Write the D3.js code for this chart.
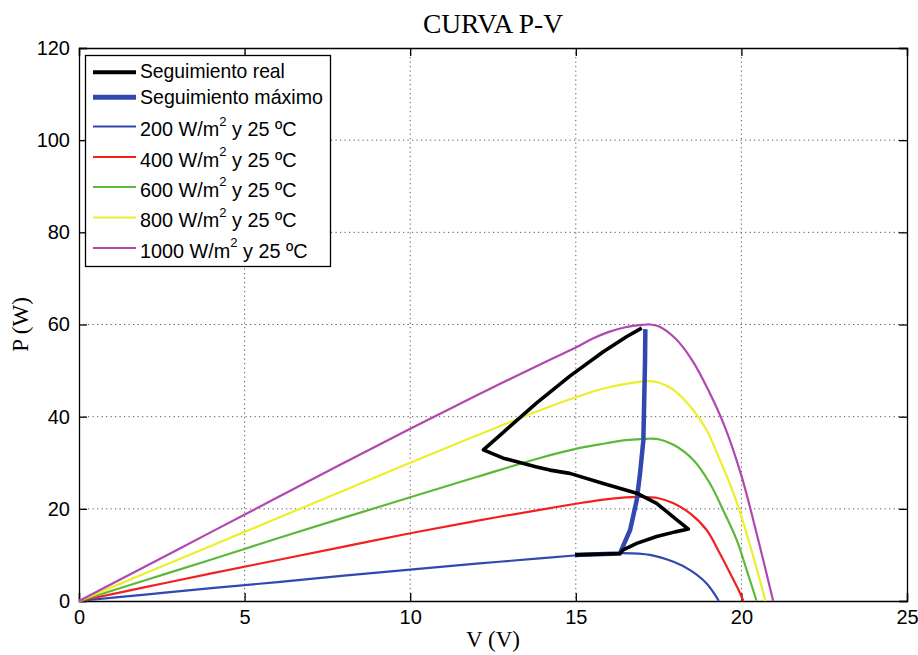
<!DOCTYPE html>
<html><head><meta charset="utf-8">
<script src="https://cdn.jsdelivr.net/npm/d3@7"></script>
<style>body{margin:0;background:#fff}svg{display:block}</style>
</head><body><svg id="c" width="918" height="655"></svg>
<script>
// ---- data ----
const xTicks = [0,5,10,15,20,25];
const yTicks = [0,20,40,60,80,100,120];
const curve200 = [[0,0],[2,1.4],[4,2.8],[6,4.1],[8,5.5],[10,6.8],[12,8.1],[14,9.3],[15,9.9],[15.73,10.3],[16.33,10.4],[17.24,10.0],[17.95,8.5],[18.45,6.7],[18.95,3.8],[19.32,0]];
const curve400 = [[0,0],[2,3.0],[4,6.0],[6,8.9],[8,11.8],[10,14.7],[12,17.4],[14,19.9],[15,21.1],[15.73,21.9],[16.5,22.5],[16.94,22.6],[17.5,22.3],[17.95,21.2],[18.45,19.0],[18.95,15.4],[19.35,10.3],[19.66,6.0],[19.96,1.7],[20.06,0]];
const curve600 = [[0,0],[2,4.5],[4,9.0],[6,13.6],[8,18.1],[10,22.5],[12,26.9],[14,31.2],[15,33.0],[15.73,34.0],[16.5,34.9],[17.14,35.2],[17.5,35.1],[17.95,33.9],[18.55,30.6],[19.05,25.5],[19.45,19.7],[19.86,13.2],[20.16,6.7],[20.46,0]];
const curve800 = [[0,0],[2,6.0],[4,12.0],[6,18.0],[8,24.0],[10,30.0],[12,35.9],[14,41.6],[15,44.2],[15.73,45.9],[16.5,47.1],[17.14,47.7],[17.5,47.4],[17.95,45.8],[18.55,41.4],[18.95,37.1],[19.35,30.6],[19.76,23.4],[20.06,16.9],[20.36,9.6],[20.73,0]];
const curve1000 = [[0,0],[2,7.5],[4,15.0],[6,22.5],[8,30.0],[10,37.4],[12,44.6],[14,51.6],[15,55.0],[15.5,56.9],[16,58.4],[16.5,59.4],[17,59.9],[17.25,60.0],[17.5,59.6],[18,57.0],[18.5,52.4],[19,45.8],[19.5,37.8],[20,27.2],[20.5,13.5],[20.96,0]];
const seguimientoMaximo = [[14.98,10.0],[16.33,10.3],[16.45,12.3],[16.64,15.4],[16.84,21.9],[16.94,27.7],[17.04,34.9],[17.07,45.1],[17.09,52],[17.1,59.0]];
const seguimientoReal = [[14.98,10.0],[16.33,10.3],[16.43,11.1],[16.84,12.5],[17.44,14.0],[18.0,15.0],[18.4,15.6],[18.05,17.6],[17.44,21.2],[16.84,23.4],[15.83,25.5],[14.82,27.7],[14.22,28.4],[13.82,29.1],[12.81,31.0],[12.21,32.8],[12.81,36.6],[13.82,43.0],[14.82,48.8],[15.83,54.1],[16.54,57.4],[16.99,59.2]];
const legendLabels = ["Seguimiento real","Seguimiento máximo","200","400","600","800","1000"];

// ---- layout ----
const svg = d3.select("#c");
const L=79, R=907, T=48, B=601;
const x = d3.scaleLinear().domain([0,25]).range([L,R]);
const y = d3.scaleLinear().domain([0,120]).range([B,T]);

// grid
const g = svg.append("g");
g.selectAll(".gx").data(xTicks.slice(1,-1)).join("line")
  .attr("x1",d=>x(d)).attr("x2",d=>x(d)).attr("y1",T).attr("y2",B)
  .attr("stroke","#555").attr("stroke-width",1).attr("stroke-dasharray","1.2,3.3");
g.selectAll(".gy").data(yTicks.slice(1,-1)).join("line")
  .attr("y1",d=>y(d)).attr("y2",d=>y(d)).attr("x1",L).attr("x2",R)
  .attr("stroke","#555").attr("stroke-width",1).attr("stroke-dasharray","1.2,3.3");

// axes
const tickFont = "Liberation Sans, Arial, sans-serif";
const ax = svg.append("g").attr("transform",`translate(0,${B})`)
  .call(d3.axisBottom(x).tickValues(xTicks).tickSize(-8).tickPadding(9).tickFormat(d3.format("d")));
const axT = svg.append("g").attr("transform",`translate(0,${T})`)
  .call(d3.axisTop(x).tickValues(xTicks).tickSize(-8).tickFormat(""));
const ay = svg.append("g").attr("transform",`translate(${L},0)`)
  .call(d3.axisLeft(y).tickValues(yTicks).tickSize(-8).tickPadding(9).tickFormat(d3.format("d")));
const ayR = svg.append("g").attr("transform",`translate(${R},0)`)
  .call(d3.axisRight(y).tickValues(yTicks).tickSize(-8).tickFormat(""));
[ax,axT,ay,ayR].forEach(a=>{
  a.selectAll("path").attr("stroke","#000").attr("stroke-width",1.3);
  a.selectAll("line").attr("stroke","#000").attr("stroke-width",1.3);
  a.selectAll("text").attr("font-family",tickFont).attr("font-size",20).attr("fill","#000");
});

// curves
const line = d3.line().x(d=>x(d[0])).y(d=>y(d[1])).curve(d3.curveCatmullRom.alpha(0.5));
const lineL = d3.line().x(d=>x(d[0])).y(d=>y(d[1]));
const colors = {c200:"#3048b0",c400:"#f42020",c600:"#5cb83c",c800:"#eeee2a",c1000:"#b048b0"};
const curves = [[curve200,colors.c200],[curve400,colors.c400],[curve600,colors.c600],[curve800,colors.c800],[curve1000,colors.c1000]];
const plot = svg.append("g");
curves.forEach(([d,c])=>plot.append("path").attr("d",line(d)).attr("fill","none").attr("stroke",c).attr("stroke-width",2.2));
plot.append("path").attr("d",lineL(seguimientoMaximo)).attr("fill","none").attr("stroke","#3048b0").attr("stroke-width",4.5).attr("stroke-linejoin","round");
plot.append("path").attr("d",lineL(seguimientoReal)).attr("fill","none").attr("stroke","#000").attr("stroke-width",3.6).attr("stroke-linejoin","round");

// legend
const lg = svg.append("g");
lg.append("rect").attr("x",85.5).attr("y",55.5).attr("width",245).attr("height",211).attr("fill","#fff").attr("stroke","#000").attr("stroke-width",1.3);
const legendItems = [
  {name:legendLabels[0],color:"#000",w:4,y:72.3,base:78,sup:false,len:145},
  {name:legendLabels[1],color:"#3048b0",w:5,y:97.3,base:104,sup:false,len:183},
  {name:legendLabels[2],color:colors.c200,w:2,y:126.5,base:136.5,sup:true,len:157},
  {name:legendLabels[3],color:colors.c400,w:2,y:157,base:167,sup:true,len:157},
  {name:legendLabels[4],color:colors.c600,w:2,y:187,base:197,sup:true,len:157},
  {name:legendLabels[5],color:colors.c800,w:2,y:217.5,base:227.5,sup:true,len:157},
  {name:legendLabels[6],color:colors.c1000,w:2,y:248,base:258,sup:true,len:168}
];
legendItems.forEach(it=>{
  lg.append("line").attr("x1",93).attr("x2",136).attr("y1",it.y).attr("y2",it.y).attr("stroke",it.color).attr("stroke-width",it.w);
  const t = lg.append("text").attr("x",140).attr("y",it.base).attr("font-family",tickFont).attr("font-size",20.5).attr("fill","#000");
  if(!it.sup){ t.text(it.name); }
  else {
    t.append("tspan").text(it.name+" W/m");
    t.append("tspan").attr("font-size",13.5).attr("dy",-10.5).text("2");
    t.append("tspan").attr("dy",10.5).text(" y 25 ºC");
  }
  const w = t.node().getBBox().width;
  if (w > 0) {
    const s = it.len / w;
    t.attr("transform",`translate(140,0) scale(${s},1) translate(-140,0)`);
  }
});

// titles
const serif = "Liberation Serif, Times New Roman, serif";
svg.append("text").attr("x",(L+R)/2).attr("y",33).attr("text-anchor","middle").attr("font-family",serif).attr("font-size",27.5).text("CURVA P-V");
svg.append("text").attr("x",(L+R)/2).attr("y",647).attr("text-anchor","middle").attr("font-family",serif).attr("font-size",23).text("V (V)");
svg.append("text").attr("transform",`translate(28,${(T+B)/2}) rotate(-90)`).attr("text-anchor","middle").attr("font-family",serif).attr("font-size",23).text("P (W)");
</script></body></html>
